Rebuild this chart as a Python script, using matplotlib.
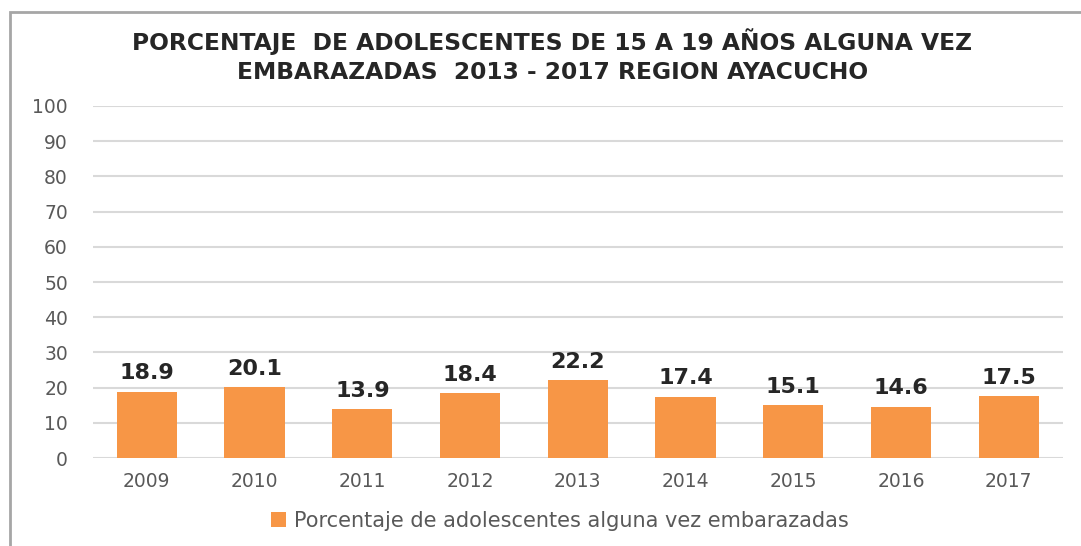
import matplotlib.pyplot as plt
import matplotlib.patches as mpatches

years = ["2009", "2010", "2011", "2012", "2013", "2014", "2015", "2016", "2017"]
values = [18.9, 20.1, 13.9, 18.4, 22.2, 17.4, 15.1, 14.6, 17.5]
series_name = "Porcentaje de adolescentes alguna vez embarazadas"
title = ("PORCENTAJE  DE ADOLESCENTES DE 15 A 19 AÑOS ALGUNA VEZ\n"
         "EMBARAZADAS  2013 - 2017 REGION AYACUCHO")

BAR_COLOR = "#F79646"
TEXT_GRAY = "#595959"

fig = plt.figure(figsize=(10.81, 5.46), dpi=100)
ax = fig.add_axes([0.086, 0.161, 0.897, 0.645])

# chart frame
fig.patches.append(mpatches.Rectangle(
    (0.009, -0.05), 1.2, 1.028, transform=fig.transFigure,
    fill=False, edgecolor="#A6A6A6", linewidth=2.0))

x = list(range(len(years)))
bars = ax.bar(x, values, width=0.56, color=BAR_COLOR, label=series_name, zorder=2)
ax.bar_label(bars, labels=[f"{v:.1f}" for v in values], padding=6,
             fontsize=16, fontweight="bold", color="#262626")

ax.set_xlim(-0.5, len(years) - 0.5)
ax.set_ylim(0, 100)
ax.set_yticks(range(0, 101, 10))
ax.set_xticks(x)
ax.set_xticklabels(years)
ax.grid(axis="y", color="#D9D9D9", linewidth=1.5, zorder=0)
ax.set_axisbelow(True)
for s in ax.spines.values():
    s.set_visible(False)
ax.tick_params(axis="both", length=0, labelsize=13.5, labelcolor=TEXT_GRAY)
ax.tick_params(axis="x", pad=10)
ax.tick_params(axis="y", pad=18)

fig.text(0.511, 0.897, title, ha="center", va="center", fontsize=16.8,
         fontweight="bold", color="#262626", linespacing=1.3)

handle = mpatches.Patch(facecolor=BAR_COLOR, label=series_name)
fig.legend(handles=[handle], loc="center", bbox_to_anchor=(0.518, 0.046),
           frameon=False, fontsize=15, handlelength=0.7, handleheight=0.7,
           handletextpad=0.4, labelcolor=TEXT_GRAY)

fig.savefig("out.png", dpi=100)
